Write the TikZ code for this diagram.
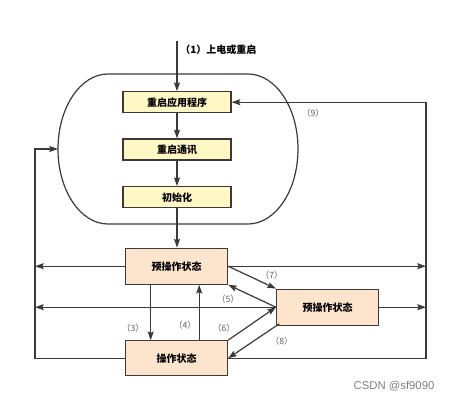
\documentclass[tikz,border=0pt]{standalone}
\usepackage{fontspec}
\newfontfamily\cjk{Noto Sans CJK SC}
\setsansfont{Liberation Sans}
\usetikzlibrary{arrows.meta,calc}
\definecolor{lineclr}{RGB}{58,58,58}
\definecolor{bootfill}{RGB}{255,247,196}
\definecolor{statefill}{RGB}{253,228,204}
\definecolor{numclr}{RGB}{95,95,95}
\begin{document}
\begin{tikzpicture}[x=0.75pt,y=0.75pt,yscale=-1,xscale=1,
  arr/.style={draw=lineclr,line width=0.9pt,-{Stealth[length=6.5pt,width=4.5pt,inset=1pt]}},
  wire/.style={draw=lineclr,line width=0.9pt},
  bootbox/.style={draw=lineclr,line width=0.9pt,fill=bootfill,inner sep=0pt,minimum width=81pt,minimum height=15.75pt,font=\cjk\bfseries\fontsize{7.5}{9}\selectfont},
  statebox/.style={draw=lineclr,line width=0.9pt,fill=statefill,inner sep=0pt,minimum width=76.5pt,minimum height=27pt,font=\cjk\bfseries\fontsize{7.5}{9}\selectfont},
  numlbl/.style={inner sep=0.75pt,text=numclr,font=\cjk\fontsize{6.5}{7.5}\selectfont}]
%set diagram to the size of the picture
\path[use as bounding box] (0,0) rectangle (450,400);

%Shape: Rounded Rectangle [id:hub]
\draw[wire] (108,74) -- (248,74) arc[start angle=-90,end angle=90,x radius=50,y radius=75] -- (108,224) arc[start angle=90,end angle=270,x radius=50,y radius=75] -- cycle ;
\coordinate (hubw) at (58,149);
\coordinate (lb) at (35,149);
\coordinate (rb) at (426,102.2);
\coordinate (top) at (177,41);

%Shape: Rectangle [id:reboot]
\node[bootbox] (reboot) at (177,102.2) {重启应用程序};
%Shape: Rectangle [id:comm]
\node[bootbox] (comm) at (177,149.5) {重启通讯};
%Shape: Rectangle [id:init]
\node[bootbox] (init) at (177,197.2) {初始化};
%Shape: Rectangle [id:preop]
\node[statebox] (preop) at (176.5,266.2) {预操作状态};
%Shape: Rectangle [id:safeop]
\node[statebox] (safeop) at (327.5,307.2) {预操作状态};
%Shape: Rectangle [id:op]
\node[statebox,minimum height=26.25pt] (op) at (176.5,358.3) {操作状态};

%Straight Lines
\draw[arr] (top) -- (reboot.north) ;
\draw[arr] (reboot.south) -- (comm.north) ;
\draw[arr] (comm.south) -- (init.north) ;
\draw[arr] (init.south) -- (init.south |- preop.north) ;
%Lines to the side buses
\draw[arr] (op.east) -| (rb) -- (reboot.east) ;
\draw[arr] (op.west) -| (lb) -- (hubw) ;
\draw[arr] (preop.west) -- (lb |- preop.west) ;
\draw[arr] (preop.east) -- (rb |- preop.east) ;
\draw[arr] (safeop.west) -- (lb |- safeop.west) ;
\draw[arr] (safeop.east) -- (rb |- safeop.east) ;
%Lines between the states
\coordinate (p3) at ($(preop.south west)!0.25!(preop.south east)$);
\coordinate (p4) at ($(op.north west)!0.72!(op.north east)$);
\coordinate (p8) at ([xshift=2.5pt,yshift=-1.5pt]safeop.south west);
\draw[arr] (p3) -- (p3 |- op.north) ;
\draw[arr] (p4) -- (p4 |- preop.south) ;
\draw[arr] (safeop.west) -- (preop.south east) ;
\draw[arr] (preop.east) -- (safeop.north west) ;
\draw[arr] (op.north east) -- (safeop.west) ;
\draw[arr] (p8) -- (op.east) ;

% Text Node
\node[anchor=west,inner sep=0.75pt,font=\cjk\bfseries\fontsize{7.5}{9}\selectfont] (lbl1) at (179,50) {（1）上电或重启};
% Text Node
\node[numlbl] (lbl9) at (313,113) {（9）};
% Text Node
\node[numlbl] (lbl7) at (271.7,275) {（7）};
% Text Node
\node[numlbl] (lbl5) at (228,299.3) {（5）};
% Text Node
\node[numlbl] (lbl3) at (133,328) {（3）};
% Text Node
\node[numlbl] (lbl4) at (185,325.7) {（4）};
% Text Node
\node[numlbl] (lbl6) at (224,328.3) {（6）};
% Text Node
\node[numlbl] (lbl8) at (281.7,341.7) {（8）};
% Text Node
\node[inner sep=0pt,text=numclr!80,font=\sffamily\fontsize{8.5}{10}\selectfont] (mark) at (394,385.7) {CSDN @sf9090};

\end{tikzpicture}
\end{document}
